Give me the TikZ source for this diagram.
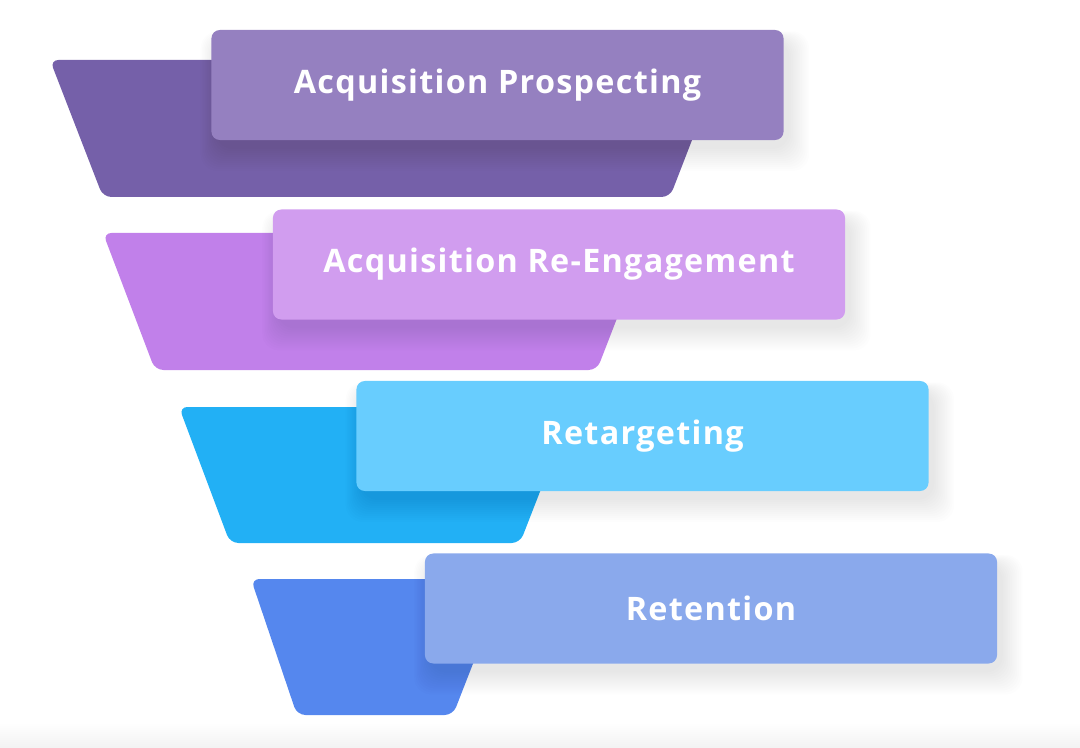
\documentclass[tikz,border=0pt]{standalone}
\usepackage{fontspec}
\setmainfont{Open Sans}
\newfontfamily\stagefont{Open Sans}[LetterSpace=4]

\begin{document}
\begin{tikzpicture}[x=0.025cm, y=-0.025cm,
  funnel/.style={rounded corners=6pt},
  stagebox/.style={rounded corners=6pt, inner sep=0pt,
    minimum width=14.3cm, minimum height=2.75cm, text=white,
    font=\stagefont\fontsize{23}{23}\selectfont\bfseries},
  softshadow/.style={fill=black, opacity=0.008, rounded corners=12pt}]

\definecolor{trapone}{HTML}{7560A9}
\definecolor{boxone}{HTML}{9580C0}
\definecolor{traptwo}{HTML}{C180EA}
\definecolor{boxtwo}{HTML}{D19DEF}
\definecolor{trapthree}{HTML}{22B0F5}
\definecolor{boxthree}{HTML}{68CDFE}
\definecolor{trapfour}{HTML}{5587EE}
\definecolor{boxfour}{HTML}{8AA9EC}

\useasboundingbox (0,0) rectangle (1080,748);

% ---- (0) faint floor band at the bottom ------------------------
\shade[top color=white, bottom color=black!5] (0,722) rectangle (1080,748);

% ---- (1) funnel slices (trapezoids) ----------------------------
\fill[trapone, funnel]   (50,60)  -- (723,60)  -- (670,197) -- (103,197) -- cycle;
\fill[traptwo, funnel]   (103,233) -- (650,233) -- (597,370) -- (155,370) -- cycle;
\fill[trapthree, funnel] (179,407) -- (573,407) -- (520,543) -- (230,543) -- cycle;
\fill[trapfour, funnel]  (251,579) -- (506,579) -- (453,715) -- (297,715) -- cycle;

% ---- (2) soft shadows under the boxes --------------------------
\foreach \cx/\cy in {497.5/85, 559/264.5, 642.5/436, 711/608.5}{%
  \foreach \s in {1,...,12}{%
    \fill[softshadow] ({\cx-280-1.4*\s},{\cy-44-0.8*\s})
                rectangle ({\cx+290+1.8*\s},{\cy+62+2.0*\s});
  }
}

% ---- (3) stage labels on raised boxes --------------------------
\node[stagebox, fill=boxone]   (prospect) at (497.5,85)  {Acquisition Prospecting};
\node[stagebox, fill=boxtwo]   (reengage) at (559,264.5) {Acquisition Re-Engagement};
\node[stagebox, fill=boxthree] (retarget) at (642.5,436) {Retargeting};
\node[stagebox, fill=boxfour]  (retain)   at (711,608.5) {Retention};

\end{tikzpicture}
\end{document}
